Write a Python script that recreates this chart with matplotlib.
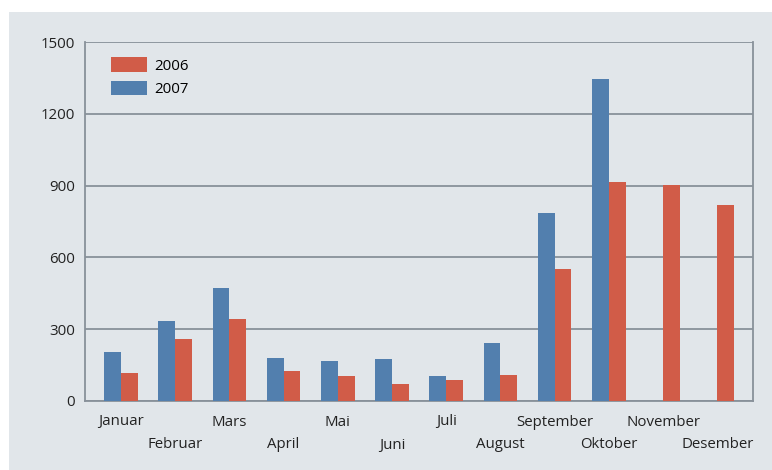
import numpy as np
import matplotlib
matplotlib.use('Agg')
import matplotlib.pyplot as plt
from matplotlib.patches import Rectangle

maaneder = ['Januar', 'Februar', 'Mars', 'April', 'Mai', 'Juni', 'Juli',
            'August', 'September', 'Oktober', 'November', 'Desember']
v2007 = [206, 335, 474, 181, 168, 176, 106, 244, 787, 1347, 0, 0]
v2006 = [118, 260, 344, 127, 106, 72, 89, 110, 553, 917, 904, 817]

bla = '#527FAE'
rod = '#D15C48'
bakgrunn = '#E1E6EA'
linje = '#88919A'

plt.rcParams['font.family'] = ['Open Sans', 'DejaVu Sans']

fig = plt.figure(figsize=(7.72, 4.70), dpi=100, facecolor='white')
fig.add_artist(Rectangle((9/772, 0), 1 - 9/772, 1 - 12/470,
                         transform=fig.transFigure, facecolor=bakgrunn,
                         edgecolor='none', zorder=-10))

ax = fig.add_axes([85/772, 69/470, 668/772, 359/470])
ax.set_facecolor(bakgrunn)

x = np.arange(len(maaneder))
b = 0.31
ax.bar(x - b/2, v2007, b, color=bla, label='2007', zorder=3)
ax.bar(x + b/2, v2006, b, color=rod, label='2006', zorder=3)

ax.set_xlim(-0.664, 11.66)
ax.set_ylim(0, 1500)
ax.set_yticks([0, 300, 600, 900, 1200, 1500])
ax.yaxis.grid(True, color=linje, lw=1.3, zorder=1)
ax.set_axisbelow(True)
ax.tick_params(axis='y', length=0, pad=7, labelsize=10.8, colors='#222222')

ax.set_xticks(x)
ax.set_xticklabels([])
ax.tick_params(axis='x', length=0)
for i, m in enumerate(maaneder):
    dy = -21 if i % 2 == 0 else -44
    ax.annotate(m, (i, 0), xycoords=('data', 'axes fraction'),
                xytext=(0, dy), textcoords='offset pixels',
                ha='center', va='center', fontsize=10.8, color='#222222')

for s in ['left', 'bottom', 'right']:
    ax.spines[s].set_color(linje)
    ax.spines[s].set_linewidth(1.3)
ax.spines['top'].set_visible(False)

h, l = ax.get_legend_handles_labels()
ax.legend(h[::-1], l[::-1], loc='upper left', bbox_to_anchor=(0.018, 0.995),
          frameon=False, fontsize=10.8, handlelength=2.4, handleheight=1.1,
          handletextpad=0.5, labelspacing=0.5)

fig.savefig('out.png', dpi=100, facecolor=fig.get_facecolor())
